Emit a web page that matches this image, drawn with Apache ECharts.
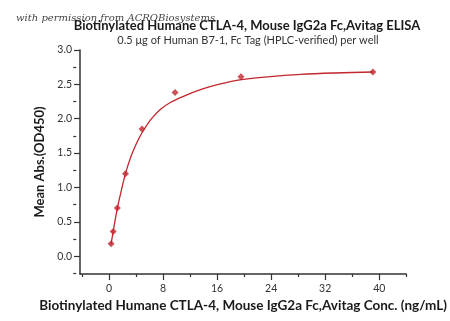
<!DOCTYPE html>
<html><head><meta charset="utf-8">
<script src="https://cdn.jsdelivr.net/npm/echarts@6/dist/echarts.min.js"></script>
<style>html,body{margin:0;padding:0;background:#fff}#c{width:450px;height:321px}</style>
</head><body><div id="c"></div>
<script>
// measured concentrations (ng/mL) and mean absorbance
const conc = [0.305, 0.61, 1.22, 2.44, 4.88, 9.77, 19.53, 39.06];
const od450 = [0.18, 0.36, 0.70, 1.20, 1.85, 2.38, 2.61, 2.68];
// fitted curve
const fitX = [0.3, 0.61, 1.22, 1.71, 2.4, 3.28, 4.25, 4.97, 6.2, 7.67, 9.13, 11.1, 13.75, 16.2, 19.6, 23.5, 28.4, 33.3, 39.06];
const fitY = [0.17, 0.36, 0.69, 0.91, 1.19, 1.46, 1.68, 1.81, 1.99, 2.14, 2.24, 2.33, 2.43, 2.50, 2.57, 2.61, 2.645, 2.665, 2.68];
const xMajor = [0, 8, 16, 24, 32, 40];
const xMinor = [-4, 4, 12, 20, 28, 36, 44];
const yMajor = [0.0, 0.5, 1.0, 1.5, 2.0, 2.5, 3.0];
const yMinor = [-0.25, 0.25, 0.75, 1.25, 1.75, 2.25, 2.75];

const FONT = 'Lato';
const red = '#C1272D';
const axisCol = '#333';
const GL = 80, GR = 40, GT = 50, GB = 47;
const GW = 450 - GL - GR, GH = 321 - GT - GB;
const chart = echarts.init(document.getElementById('c'), null, {renderer: 'canvas'});
const xBase = {type: 'value', min: -4.3, max: 44, gridIndex: 0, splitLine: {show: false}};
const yBase = {type: 'value', min: -0.26, max: 3.0, gridIndex: 0, splitLine: {show: false}};
chart.setOption({
  animation: false,
  title: [
    {text: 'Biotinylated Humane CTLA-4, Mouse IgG2a Fc,Avitag ELISA', left: 242, top: 14, textAlign: 'center',
     textStyle: {fontFamily: FONT, fontWeight: 'bold', fontSize: 13, color: '#1a1a1a'}},
    {text: '0.5 μg of Human B7-1, Fc Tag (HPLC-verified) per well', left: 243, top: 30, textAlign: 'center',
     textStyle: {fontFamily: FONT, fontWeight: 'normal', fontSize: 11, color: '#333'}},
    {text: 'with permission from ACROBiosystems', left: 11, top: 8,
     textStyle: {fontFamily: 'DejaVu Serif', fontStyle: 'italic', fontWeight: 'normal', fontSize: 10, color: '#444'}}
  ],
  grid: {left: GL, right: GR, top: GT, bottom: GB, containLabel: false},
  xAxis: [
    Object.assign({}, xBase, {
      position: 'bottom',
      name: 'Biotinylated Humane CTLA-4, Mouse IgG2a Fc,Avitag Conc. (ng/mL)', nameLocation: 'middle', nameGap: 23,
      nameTextStyle: {fontFamily: FONT, fontWeight: 'bold', fontSize: 13.5, color: '#1a1a1a'},
      axisLine: {show: true, onZero: false, lineStyle: {color: axisCol, width: 1.5}},
      axisTick: {show: true, length: 6, customValues: xMajor, lineStyle: {color: axisCol, width: 1.2}},
      axisLabel: {customValues: xMajor, fontFamily: FONT, fontSize: 10.5, color: '#333', margin: 9}
    }),
    Object.assign({}, xBase, {
      position: 'top', offset: -GH,
      axisLine: {show: false, onZero: false}, axisLabel: {show: false},
      axisTick: {show: true, inside: true, length: 3, customValues: xMinor, lineStyle: {color: axisCol, width: 1.2}}
    })
  ],
  yAxis: [
    Object.assign({}, yBase, {
      position: 'left',
      name: 'Mean Abs.(OD450)', nameLocation: 'middle', nameGap: 34, nameRotate: 90,
      nameTextStyle: {fontFamily: FONT, fontWeight: 'bold', fontSize: 13, color: '#1a1a1a'},
      axisLine: {show: true, onZero: false, lineStyle: {color: axisCol, width: 1.5}},
      axisTick: {show: true, length: 6, customValues: yMajor, lineStyle: {color: axisCol, width: 1.2}},
      axisLabel: {customValues: yMajor, formatter: v => v.toFixed(1), fontFamily: FONT, fontSize: 10.5, color: '#333', margin: 8}
    }),
    Object.assign({}, yBase, {
      position: 'right', offset: -GW,
      axisLine: {show: false, onZero: false}, axisLabel: {show: false},
      axisTick: {show: true, inside: true, length: 3, customValues: yMinor, lineStyle: {color: axisCol, width: 1.2}}
    })
  ],
  series: [
    {type: 'line', smooth: 0.25, symbol: 'none', xAxisIndex: 0, yAxisIndex: 0,
     data: fitX.map((x, i) => [x, fitY[i]]), lineStyle: {color: red, width: 1.3}},
    {type: 'scatter', symbol: 'diamond', symbolSize: 7, xAxisIndex: 0, yAxisIndex: 0,
     data: conc.map((x, i) => [x, od450[i]]), itemStyle: {color: red}}
  ]
});
</script></body></html>
